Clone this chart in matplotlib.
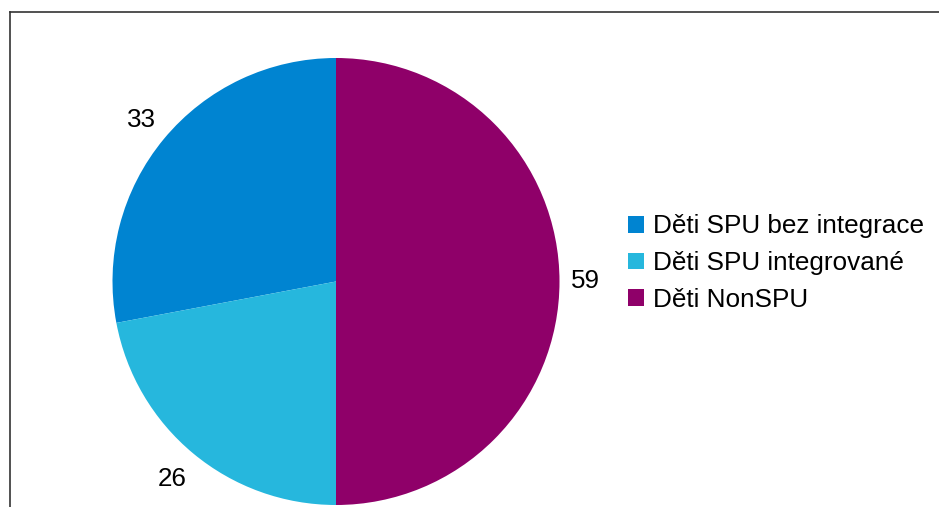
import matplotlib.pyplot as plt
import numpy as np
from matplotlib.lines import Line2D

plt.rcParams['font.family'] = ['Liberation Sans', 'DejaVu Sans']

# Data
labels = ['Děti SPU bez integrace', 'Děti SPU integrované', 'Děti NonSPU']
values = [33, 26, 59]
colors = ['#0084d1', '#26b7dd', '#8f0069']

W, H = 939, 507
fig = plt.figure(figsize=(W / 100, H / 100), dpi=100)

# pie centre (336, 281.5), radius 223.5 px
cx, cy, r = 336, 281.5, 223.5
ax = fig.add_axes([(cx - r) / W, (H - cy - r) / H, 2 * r / W, 2 * r / H])
wedges, _ = ax.pie(values, colors=colors, startangle=90, counterclock=True,
                   wedgeprops=dict(linewidth=0))
ax.set_xlim(-1, 1)
ax.set_ylim(-1, 1)
ax.set_aspect('equal')
ax.axis('off')

# value labels outside the slices
dists = [1.13, 1.15, 1.115]
for w, v, d in zip(wedges, values, dists):
    ang = np.deg2rad((w.theta1 + w.theta2) / 2)
    ax.text(d * np.cos(ang), d * np.sin(ang), str(v), ha='center', va='center',
            fontsize=18.7, color='black', clip_on=False)

fig.legend(wedges, labels, loc='center left', bbox_to_anchor=(618 / W, 1 - 263 / H),
           frameon=False, fontsize=18.8, handlelength=0.6, handleheight=0.6,
           handletextpad=0.33, labelspacing=0.48, borderaxespad=0)

# partial frame (top and left edges)
fig.add_artist(Line2D([9.5 / W, 1], [1 - 11.5 / H, 1 - 11.5 / H], transform=fig.transFigure,
                      color='#333333', linewidth=1.2))
fig.add_artist(Line2D([9.5 / W, 9.5 / W], [0, 1 - 11.5 / H], transform=fig.transFigure,
                      color='#333333', linewidth=1.2))

fig.savefig('out.png', dpi=100)
